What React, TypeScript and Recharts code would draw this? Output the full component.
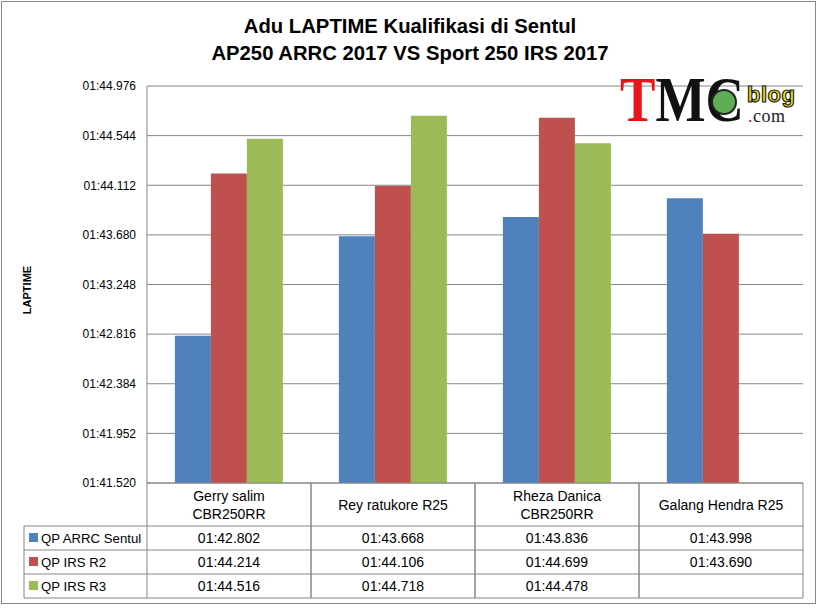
import { BarChart, Bar, XAxis, YAxis, CartesianGrid } from "recharts";

// qualifying lap times, in seconds
const riders = ["Gerry salim\nCBR250RR", "Rey ratukore R25", "Rheza Danica\nCBR250RR", "Galang Hendra R25"];
const qpArrcSentul = [102.802, 103.668, 103.836, 103.998];
const qpIrsR2 = [104.214, 104.106, 104.699, 103.69];
const qpIrsR3: (number | null)[] = [104.516, 104.718, 104.478, null];
const yTicks = [101.52, 101.952, 102.384, 102.816, 103.248, 103.68, 104.112, 104.544, 104.976];

const seriesList = [
  { key: "arrc", name: "QP ARRC Sentul", color: "#4F81BD", values: qpArrcSentul },
  { key: "r2", name: "QP IRS R2", color: "#C0504D", values: qpIrsR2 },
  { key: "r3", name: "QP IRS R3", color: "#9BBB59", values: qpIrsR3 },
];

const data = riders.map((rider, i) => ({
  rider,
  arrc: qpArrcSentul[i],
  r2: qpIrsR2[i],
  r3: qpIrsR3[i],
}));

const FONT = "'Liberation Sans', Arial, sans-serif";
const SERIF = "'Liberation Serif', serif";
const GRID = "#868686";
const PLOT_BOTTOM = 483;
const ROWS = [526, 550, 574, 598];
const LEGEND_LEFT = 24;
const HALF = 82;

function fmtTime(v: number) {
  const ms = Math.round(v * 1000);
  const m = Math.floor(ms / 60000);
  const s = (ms % 60000) / 1000;
  return String(m).padStart(2, "0") + ":" + s.toFixed(3).padStart(6, "0");
}

function TableTick(props: any) {
  const { x, payload } = props;
  const idx = payload.index;
  const lines = String(payload.value).split("\n");
  const left = x - HALF;
  const right = x + HALF;
  return (
    <g>
      <line x1={left} x2={left} y1={PLOT_BOTTOM} y2={ROWS[3]} stroke={GRID} />
      <line x1={right} x2={right} y1={PLOT_BOTTOM} y2={ROWS[3]} stroke={GRID} />
      {ROWS.map((ry) => (
        <line key={ry} x1={left} x2={right} y1={ry} y2={ry} stroke={GRID} />
      ))}
      {lines.map((ln, li) => (
        <text
          key={li}
          x={x}
          y={lines.length === 1 ? 510 : 501 + li * 18}
          textAnchor="middle"
          fontSize={14}
          fontFamily={FONT}
          fill="#000"
        >
          {ln}
        </text>
      ))}
      {seriesList.map((s, si) =>
        s.values[idx] == null ? null : (
          <text key={s.key} x={x} y={543 + si * 24} textAnchor="middle" fontSize={14} fontFamily={FONT} fill="#000">
            {fmtTime(s.values[idx] as number)}
          </text>
        )
      )}
      {idx === 0 && (
        <g>
          <line x1={LEGEND_LEFT} x2={LEGEND_LEFT} y1={ROWS[0]} y2={ROWS[3]} stroke={GRID} />
          {ROWS.map((ry) => (
            <line key={ry} x1={LEGEND_LEFT} x2={left} y1={ry} y2={ry} stroke={GRID} />
          ))}
          {seriesList.map((s, si) => (
            <g key={s.key}>
              <rect x={29} y={533 + si * 24} width={9} height={9} fill={s.color} />
              <text x={41} y={543 + si * 24} fontSize={13.2} fontFamily={FONT} fill="#000">
                {s.name}
              </text>
            </g>
          ))}
        </g>
      )}
    </g>
  );
}

function Logo() {
  return (
    <>
      <div
        style={{
          position: "absolute",
          left: 620,
          top: 68,
          fontFamily: SERIF,
          fontWeight: 700,
          fontSize: 64,
          lineHeight: "64px",
          transform: "scaleX(0.83)",
          transformOrigin: "left top",
          whiteSpace: "nowrap",
        }}
      >
        <span style={{ color: "#E8141B" }}>T</span>
        <span style={{ color: "#111" }}>MC</span>
      </div>
      <div
        style={{
          position: "absolute",
          left: 711,
          top: 89,
          width: 22,
          height: 22,
          borderRadius: 13,
          background: "#5FAE55",
          border: "2px solid #222",
        }}
      />
      <div
        style={{
          position: "absolute",
          left: 747,
          top: 84,
          fontFamily: FONT,
          fontWeight: 700,
          fontSize: 22,
          lineHeight: "22px",
          letterSpacing: 0.5,
          color: "#F2E614",
          WebkitTextStroke: "1.2px #222",
        }}
      >
        blog
      </div>
      <div
        style={{
          position: "absolute",
          left: 748,
          top: 108,
          fontFamily: SERIF,
          fontSize: 18,
          lineHeight: "16px",
          letterSpacing: 0.5,
          color: "#222",
        }}
      >
        <span style={{ color: "#E8141B" }}>.</span>com
      </div>
    </>
  );
}

export default function App() {
  return (
    <div style={{ position: "relative", width: 820, height: 608, background: "#fff", fontFamily: FONT }}>
      <style>{"body{margin:0}"}</style>
      <div
        style={{
          position: "absolute",
          left: 1,
          top: 1,
          width: 815,
          height: 603,
          border: `1px solid ${GRID}`,
          boxSizing: "border-box",
        }}
      />
      <div
        style={{
          position: "absolute",
          left: 0,
          width: 820,
          top: 13,
          textAlign: "center",
          fontWeight: 700,
          fontSize: 20.3,
          lineHeight: "27px",
          color: "#000",
        }}
      >
        <div>Adu LAPTIME Kualifikasi di Sentul</div>
        <div>AP250 ARRC 2017 VS Sport 250 IRS 2017</div>
      </div>
      <div
        style={{
          position: "absolute",
          left: 27 - 40,
          top: 290 - 8,
          width: 80,
          textAlign: "center",
          fontWeight: 700,
          fontSize: 11,
          lineHeight: "16px",
          transform: "rotate(-90deg)",
        }}
      >
        LAPTIME
      </div>
      <div style={{ position: "absolute", left: 0, top: 0 }}>
        <BarChart
          width={820}
          height={608}
          data={data}
          margin={{ top: 86, right: 17, bottom: 10, left: 0 }}
          barCategoryGap="17%"
          barGap={0}
        >
          <CartesianGrid vertical={false} stroke={GRID} />
          <XAxis
            dataKey="rider"
            height={115}
            interval={0}
            tickLine={false}
            axisLine={{ stroke: GRID }}
            tick={<TableTick />}
          />
          <YAxis
            width={147}
            domain={[101.52, 104.976]}
            ticks={yTicks}
            allowDataOverflow
            tickLine={false}
            tickSize={0}
            tickMargin={11}
            axisLine={{ stroke: GRID }}
            tickFormatter={fmtTime}
            tick={{ fill: "#000", fontSize: 12, fontFamily: FONT }}
          />
          {seriesList.map((s) => (
            <Bar key={s.key} dataKey={s.key} name={s.name} fill={s.color} isAnimationActive={false} />
          ))}
        </BarChart>
      </div>
      <Logo />
    </div>
  );
}
